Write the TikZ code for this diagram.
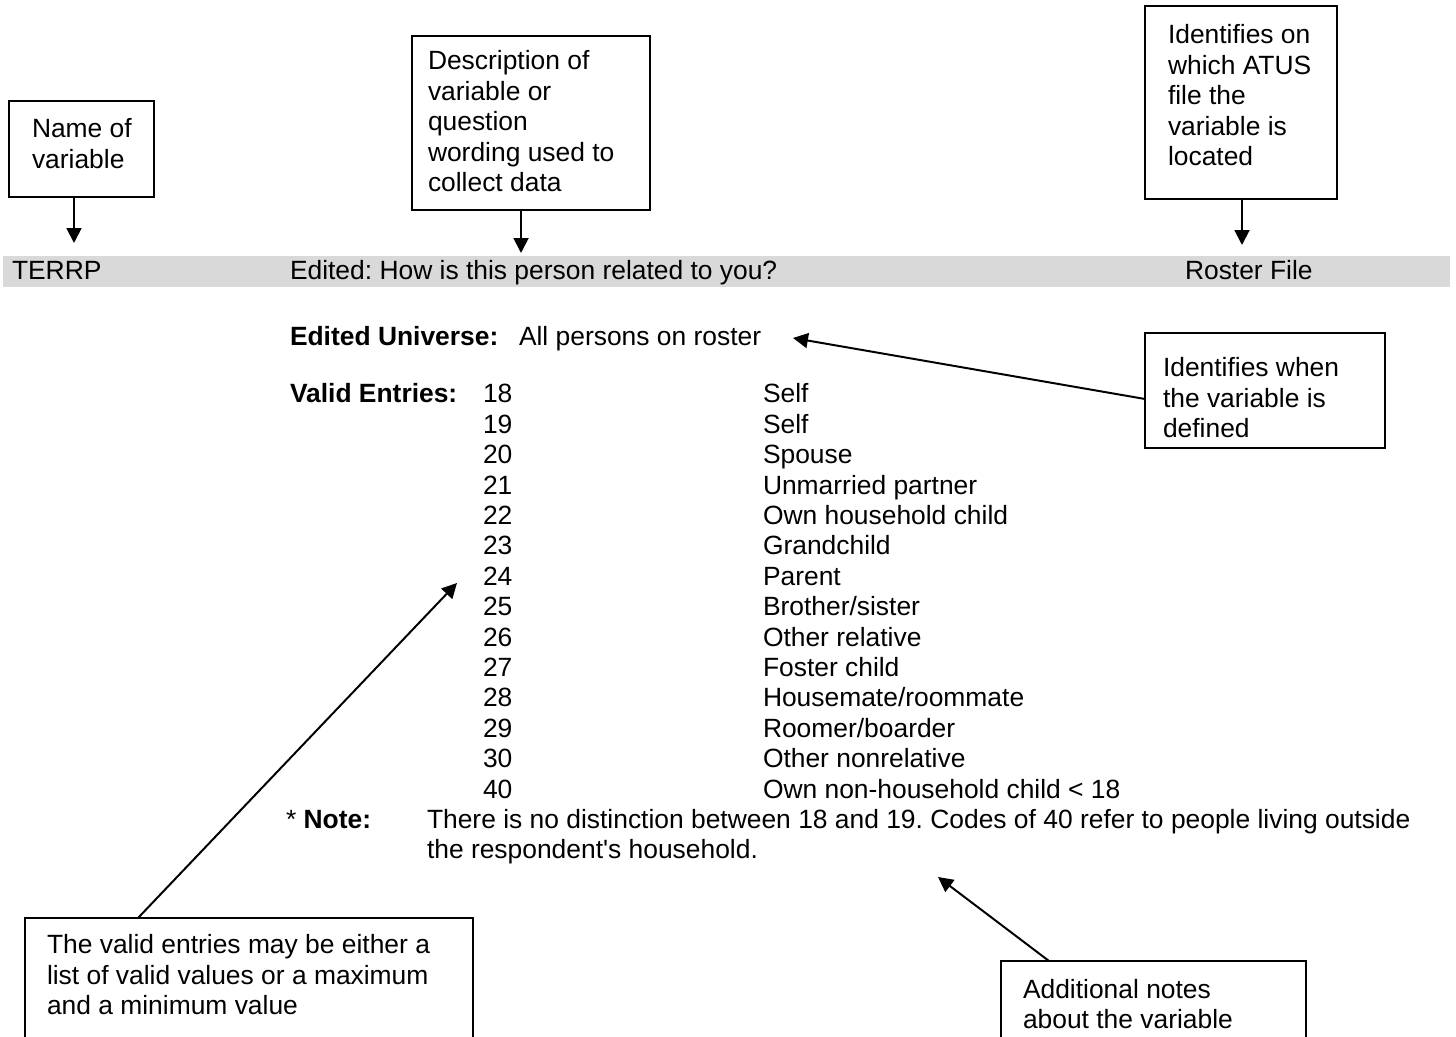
\documentclass[tikz,border=0pt]{standalone}
\usepackage{fontspec}
\setmainfont{Liberation Sans}
\usetikzlibrary{arrows.meta}
\definecolor{bargray}{HTML}{D9D9D9}
\frenchspacing
\begin{document}
\begin{tikzpicture}[x=0.4545pt,y=-0.4545pt,
  every node/.style={inner sep=0pt, outer sep=0pt, font=\fontsize{12}{13.8}\selectfont},
  txt/.style={anchor=base west},
  bx/.style={draw, line width=0.9pt, anchor=north west},
  arr/.style={line width=0.9pt, -{Triangle[length=6.8pt,width=6.8pt]}}]
\clip (0,0) rectangle (1456,1037);
\fill[white] (0,0) rectangle (1456,1037);

% gray header bar
\node[fill=bargray, anchor=north west, minimum width=1447*0.4545pt, minimum height=31*0.4545pt] (bar) at (3,256) {};
\node[txt] (varname) at (12,279.5) {TERRP};
\node[txt] (vardesc) at (290,279.5) {Edited: How is this person related to you?};
\node[txt] (varfile) at (1185,279.5) {Roster File};

% universe
\node[txt] (univlab) at (290,346) {\textbf{Edited Universe:}};
\node[txt] (univtxt) at (519,346) {All persons on roster};

% valid entries
\node[txt] (validlab) at (290,403) {\textbf{Valid Entries:}};
\foreach \n/\t [count=\k from 0] in {18/Self, 19/Self, 20/Spouse, 21/{Unmarried partner},
  22/{Own household child}, 23/Grandchild, 24/Parent, 25/{Brother/sister},
  26/{Other relative}, 27/{Foster child}, 28/{Housemate/roommate},
  29/{Roomer/boarder}, 30/{Other nonrelative}, 40/{Own non-household child < 18}}
{
  \node[txt] (num\n) at (483,{403+30.4*\k}) {\n};
  \node[txt] (lab\n) at (763,{403+30.4*\k}) {\t};
}

% note
\node[txt] (notelab) at (286,829) {* \textbf{Note:}};
\node[txt] (note1) at (427,829) {There is no distinction between 18 and 19. Codes of 40 refer to people living outside};
\node[txt] (note2) at (427,859) {the respondent\textquotesingle s household.};

% callout boxes
\node[bx, minimum width=145*0.4545pt, minimum height=96*0.4545pt] (namebox) at (9,101) {};
\foreach \t [count=\k from 0] in {Name of, variable}
  \node[txt] (nametxt\k) at (32,{138+30.4*\k}) {\t};

\node[bx, minimum width=238*0.4545pt, minimum height=174*0.4545pt] (descbox) at (412,36) {};
\foreach \t [count=\k from 0] in {Description of, variable or, question, wording used to, collect data}
  \node[txt] (desctxt\k) at (428,{70+30.4*\k}) {\t};

\node[bx, minimum width=192*0.4545pt, minimum height=193*0.4545pt] (atusbox) at (1145,6) {};
\foreach \t [count=\k from 0] in {Identifies on, which ATUS, file the, variable is, located}
  \node[txt] (atustxt\k) at (1168,{44+30.4*\k}) {\t};

\node[bx, minimum width=240*0.4545pt, minimum height=115*0.4545pt] (whenbox) at (1145,333) {};
\foreach \t [count=\k from 0] in {Identifies when, the variable is, defined}
  \node[txt] (whentxt\k) at (1163,{377+30.4*\k}) {\t};

\node[bx, minimum width=448*0.4545pt, minimum height=200*0.4545pt] (validbox) at (25,918) {};
\foreach \t [count=\k from 0] in {The valid entries may be either a, list of valid values or a maximum, and a minimum value}
  \node[txt] (validtxt\k) at (47,{954+30.4*\k}) {\t};

\node[bx, minimum width=305*0.4545pt, minimum height=150*0.4545pt] (addbox) at (1001,961) {};
\foreach \t [count=\k from 0] in {Additional notes, about the variable}
  \node[txt] (addtxt\k) at (1023,{998+30.4*\k}) {\t};

% arrow targets
\coordinate (t1) at (74,243);
\coordinate (t2) at (521,253);
\coordinate (t3) at (1242,245);
\coordinate (t4) at (793,338);
\coordinate (t5) at (457,583);
\coordinate (t6) at (938,877);
\coordinate (w0) at (0,399);
\coordinate (v0) at (138,0);
\coordinate (a0) at (1049,0);

\draw[arr] (t1 |- namebox.south) -- (t1);
\draw[arr] (t2 |- descbox.south) -- (t2);
\draw[arr] (t3 |- atusbox.south) -- (t3);
\draw[arr] (whenbox.west |- w0) -- (t4);
\draw[arr] (v0 |- validbox.north) -- (t5);
\draw[arr] (a0 |- addbox.north) -- (t6);
\end{tikzpicture}
\end{document}
